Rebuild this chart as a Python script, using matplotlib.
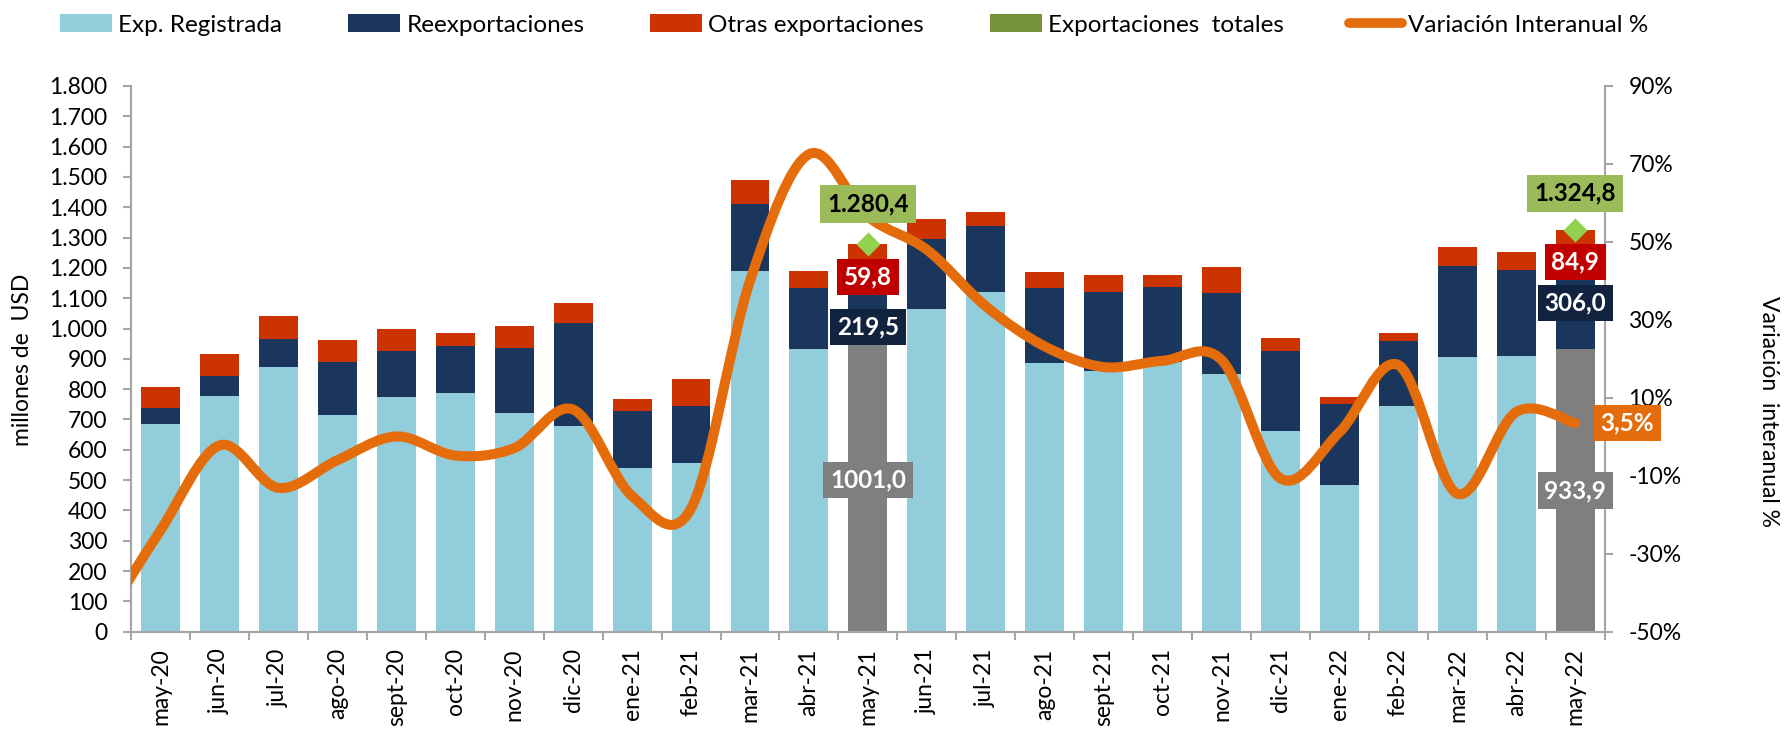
import numpy as np
import matplotlib
matplotlib.use('Agg')
import matplotlib.pyplot as plt
from matplotlib.path import Path
from matplotlib.patches import PathPatch, Patch
from matplotlib.lines import Line2D
from matplotlib.ticker import FixedLocator, FuncFormatter

plt.rcParams['font.family'] = ['Lato', 'DejaVu Sans']

months = ['may-20', 'jun-20', 'jul-20', 'ago-20', 'sept-20', 'oct-20', 'nov-20', 'dic-20',
          'ene-21', 'feb-21', 'mar-21', 'abr-21', 'may-21', 'jun-21', 'jul-21', 'ago-21',
          'sept-21', 'oct-21', 'nov-21', 'dic-21', 'ene-22', 'feb-22', 'mar-22', 'abr-22', 'may-22']

exp_registrada = [684, 776, 872, 715, 773, 788, 721, 678, 541, 555, 1190, 934, 1001.0,
                  1063, 1121, 885, 860, 888, 850, 662, 484, 744, 907, 910, 933.9]
reexportaciones = [53, 66, 95, 174, 154, 155, 215, 339, 188, 191, 221, 200, 219.5,
                   231, 216, 249, 260, 248, 267, 265, 267, 214, 299, 284, 306.0]
otras_exp = [71, 75, 75, 72, 73, 43, 71, 67, 37, 89, 78, 57, 59.8,
             68, 48, 53, 57, 40, 85, 42, 24, 27, 62, 57, 84.9]

# variacion interanual %, first value is abr-20 (falls left of the plot area)
var_interanual = [-48, -24.0, -2.2, -13.1, -6.0, 0.1, -4.8, -2.9, 7.0, -15.2, -18.4, 40.0, 72.5,
                  56.5, 48.0, 33.5, 23.2, 17.9, 19.5, 19.7, -10.7, 1.2, 18.4, -14.6, 6.4, 3.5]

hl_idx = [12, 24]                 # highlighted months
exp_totales = [1280.4, 1324.8]

c_light = '#92CDDC'
c_navy = '#1B365D'
c_red = '#CC3300'
c_green = '#77933C'
c_orange = '#E46C0A'
c_gray = '#7F7F7F'
c_axis = '#A6A6A6'

W, H = 1784, 730
fig = plt.figure(figsize=(W / 100, H / 100), dpi=100)
ax = fig.add_axes([131 / W, 1 - 631.7 / H, (1604.8 - 131) / W, (631.7 - 86) / H])
ax2 = ax.twinx()

x = np.arange(len(months))
light_cols = [c_gray if i in hl_idx else c_light for i in x]
bw = 0.66
ax.bar(x, exp_registrada, bw, color=light_cols, zorder=2)
ax.bar(x, reexportaciones, bw, bottom=exp_registrada, color=c_navy, zorder=2)
bot2 = np.array(exp_registrada) + np.array(reexportaciones)
ax.bar(x, otras_exp, bw, bottom=bot2, color=c_red, zorder=2)
ax.plot(hl_idx, exp_totales, ls='none', marker='D', ms=12, color='#92D050', mec='none', zorder=5)

ax.set_xlim(-0.5, len(months) - 0.5)
ax.set_ylim(0, 1800)
ax2.set_ylim(-50, 90)

# smoothed line (bezier through each point, like the spreadsheet smoothing)
xl = np.arange(len(var_interanual)) - 1.0
yl = np.array(var_interanual, dtype=float)
pts = np.column_stack([xl, yl])
verts = [pts[0]]
codes = [Path.MOVETO]
n = len(pts)
for i in range(n - 1):
    p0 = pts[max(i - 1, 0)]
    p1 = pts[i]
    p2 = pts[i + 1]
    p3 = pts[min(i + 2, n - 1)]
    verts += [p1 + (p2 - p0) / 6, p2 - (p3 - p1) / 6, p2]
    codes += [Path.CURVE4] * 3
line = PathPatch(Path(verts, codes), fc='none', ec=c_orange, lw=7.2, capstyle='round',
                 joinstyle='round', zorder=3)
ax2.add_patch(line)

# axes styling
for a in (ax, ax2):
    a.spines['top'].set_visible(False)
    for s in ('left', 'right', 'bottom'):
        a.spines[s].set_color(c_axis)
        a.spines[s].set_linewidth(1.5)

ax.yaxis.set_major_locator(FixedLocator(np.arange(0, 1801, 100)))
ax.yaxis.set_major_formatter(FuncFormatter(lambda v, p: f"{int(v):,}".replace(',', '.')))
ax2.yaxis.set_major_locator(FixedLocator(np.arange(-50, 91, 20)))
ax2.yaxis.set_major_formatter(FuncFormatter(lambda v, p: f"{int(v)}%"))
ax.tick_params(axis='y', length=6, width=1.5, color=c_axis, pad=11, labelsize=16.5)
ax2.tick_params(axis='y', length=6, width=1.5, color=c_axis, pad=11, labelsize=16.5)

ax.set_xticks(np.arange(-0.5, len(months), 1.0))
ax.set_xticklabels([])
ax.set_xticks(x, minor=True)
ax.set_xticklabels(months, minor=True, rotation=90, fontsize=16.5, va='top')
ax.tick_params(axis='x', which='major', length=6, width=1.5, color=c_axis)
ax.tick_params(axis='x', which='minor', length=0, pad=12)

fig.text(23 / W, 1 - 359.5 / H, 'millones de  USD', rotation=90, ha='center', va='center', fontsize=16.5)
fig.text(1768 / W, 1 - 411.7 / H, 'Variación  interanual %', rotation=270, ha='center', va='center',
         fontsize=16.5)

# data labels for the highlighted months
lbl_y_light = [500, 465]
lbl_y_reexp = [1005, 1084]
lbl_y_otras = [1170, 1219]
lbl_y_total = [1411, 1446]


def fmt(v, thousands=False):
    s = f"{v:,.1f}" if thousands else f"{v:.1f}"
    return s.replace(',', 'X').replace('.', ',').replace('X', '.')


for k, i in enumerate(hl_idx):
    kw = dict(transform=ax.transData, ha='center', va='center', fontsize=17.5, fontweight='bold',
              zorder=10)
    ax2.text(i, lbl_y_light[k], fmt(exp_registrada[i]), color='white',
             bbox=dict(boxstyle='square,pad=0.28', fc=c_gray, ec='none'), **kw)
    ax2.text(i, lbl_y_reexp[k], fmt(reexportaciones[i]), color='white',
             bbox=dict(boxstyle='square,pad=0.28', fc='#12233F', ec='none'), **kw)
    ax2.text(i, lbl_y_otras[k], fmt(otras_exp[i]), color='white',
             bbox=dict(boxstyle='square,pad=0.28', fc='#C00000', ec='none'), **kw)
    ax2.text(i, lbl_y_total[k], fmt(exp_totales[k], True), color='black',
             bbox=dict(boxstyle='square,pad=0.3', fc='#9BBB59', ec='none'), **kw)

ax2.annotate(fmt(var_interanual[-1]) + '%', (x[-1], var_interanual[-1]), xytext=(52, 0),
             textcoords='offset pixels', ha='center', va='center', fontsize=17.5, fontweight='bold',
             color='white', zorder=10,
             bbox=dict(boxstyle='square,pad=0.28', fc=c_orange, ec='none'))

handles = [Patch(fc=c_light, ec='none'), Patch(fc=c_navy, ec='none'), Patch(fc=c_red, ec='none'),
           Patch(fc=c_green, ec='none'),
           Line2D([], [], color=c_orange, lw=7, solid_capstyle='round')]
labels = ['Exp. Registrada', 'Reexportaciones', 'Otras exportaciones', 'Exportaciones  totales',
          'Variación Interanual %']
fig.legend(handles, labels, loc='center left', bbox_to_anchor=(60 / W, 1 - 25 / H), ncol=5,
           frameon=False, fontsize=17.5, borderpad=0, borderaxespad=0, handlelength=2.15,
           handletextpad=0.25, columnspacing=2.7, handleheight=0.7)

fig.savefig('out.png', dpi=100)
